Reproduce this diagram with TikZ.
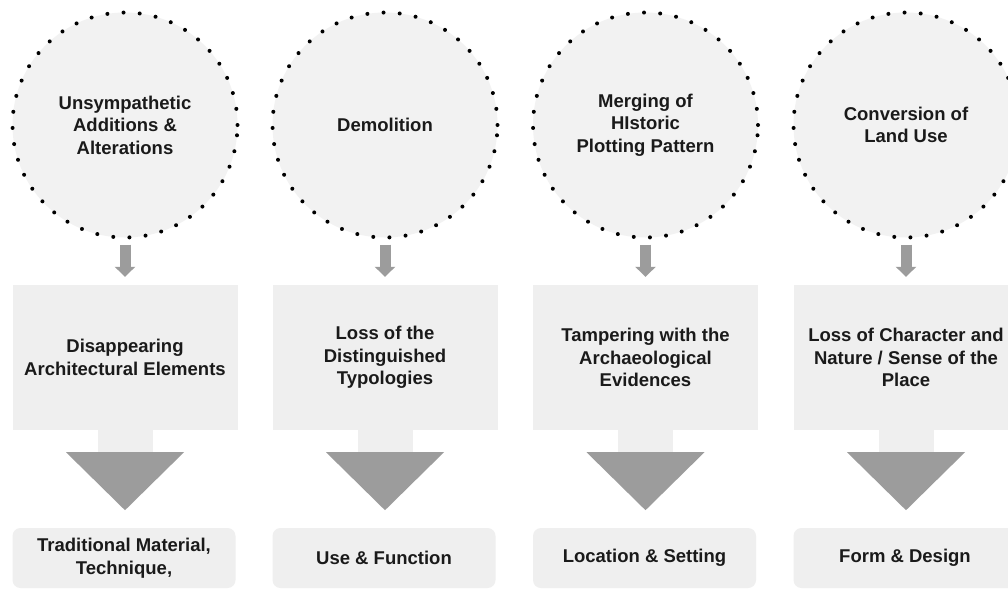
\documentclass[tikz,border=0pt]{standalone}
\usepackage{fontspec}
\setmainfont{Liberation Sans}
\usetikzlibrary{arrows.meta,calc}
\definecolor{fillc}{HTML}{F2F2F2}
\definecolor{boxc}{HTML}{EFEFEF}
\definecolor{arrc}{HTML}{9C9C9C}
\definecolor{txtc}{HTML}{1A1A1A}
\tikzset{
  x=1pt,y=-1pt,
  lbl/.style={font=\bfseries\fontsize{18.5}{22.5}\selectfont, text=txtc, align=center},
  risk/.style={circle, minimum size=225pt, inner sep=0pt, fill=fillc, draw=black,
    line width=4pt, line cap=round, dash pattern=on 0pt off 16.2pt, lbl},
  effect/.style={rectangle, minimum width=225pt, minimum height=145pt, inner sep=0pt,
    fill=boxc, draw=none, lbl},
  value/.style={rectangle, rounded corners=8pt, minimum width=223pt, minimum height=60pt,
    inner sep=0pt, fill=boxc, draw=none, lbl},
  smallarr/.style={draw=arrc, line width=11pt, -{Triangle[width=20pt,length=10pt]},
    shorten <=5pt, shorten >=8pt},
  stemc/.style={fill=boxc},
  tric/.style={fill=arrc},
}
\begin{document}
\begin{tikzpicture}
\clip (0,0) rectangle (1008,590);
\fill[white] (0,0) rectangle (1008,590);
\foreach \i/\cx/\ta/\tb/\tc in {
  1/125/{Unsympathetic\\Additions \&\\Alterations}/{Disappearing\\Architectural Elements}/{Traditional Material,\\Technique,},
  2/385/{Demolition}/{Loss of the\\Distinguished\\Typologies}/{Use \& Function},
  3/645.5/{Merging of\\HIstoric\\Plotting Pattern}/{Tampering with the\\Archaeological\\Evidences}/{Location \& Setting},
  4/906/{Conversion of\\Land Use}/{Loss of Character and\\Nature / Sense of the\\Place}/{Form \& Design}} {
  \node[risk] (c\i) at (\cx,125) {\ta};
  \node[effect] (b\i) at (\cx,357.5) {\tb};
  \node[value] (v\i) at (\cx-1,558) {\tc};
  \draw[smallarr] (c\i.south) -- (b\i.north);
  \fill[stemc] ($(b\i.south)+(-27.5,0)$) rectangle ($(b\i.south)+(27.5,22)$);
  \fill[tric] ($(b\i.south)+(-59,22)$) -- ($(b\i.south)+(59,22)$) -- ($(b\i.south)+(0,80)$) -- cycle;
}
\end{tikzpicture}
\end{document}
